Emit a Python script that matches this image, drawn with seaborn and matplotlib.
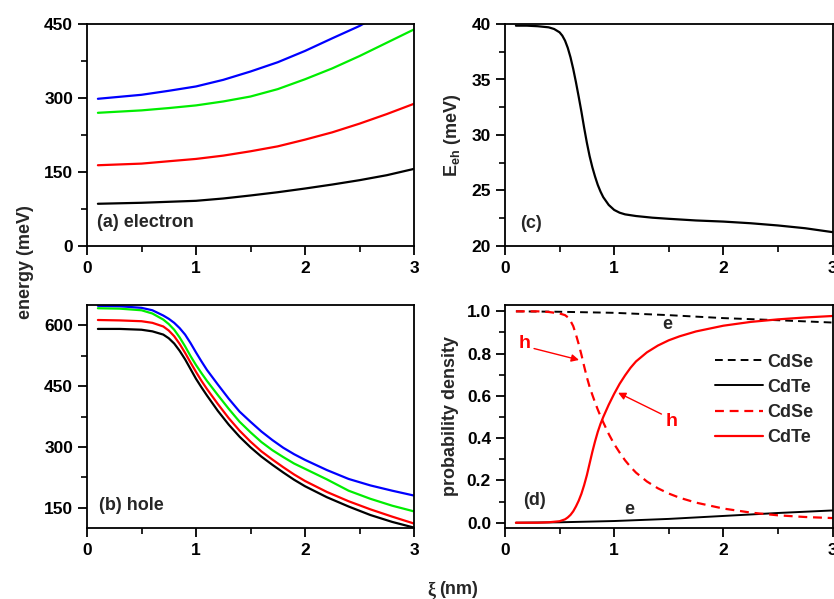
import matplotlib
matplotlib.use("Agg")
import matplotlib.pyplot as plt
from matplotlib.ticker import MultipleLocator, FormatStrFormatter
import pandas as pd
import seaborn as sns

# ---------------- data ----------------
# (a) electron levels (meV) vs xi (nm)
xi_a = [0.1, 0.5, 0.75, 1.0, 1.25, 1.5, 1.75, 2.0, 2.25, 2.5, 2.75, 3.0]
ea_black = [85.6, 87.6, 89.6, 91.6, 96.3, 102.4, 109.0, 116.5, 124.6, 133.4, 143.5, 156.3]
ea_red = [163.7, 167.0, 171.8, 176.5, 183.2, 192.0, 202.0, 215.6, 230.4, 248.0, 267.4, 288.3]
ea_green = [270.0, 274.9, 279.6, 285.0, 293.0, 303.0, 318.0, 338.0, 360.0, 385.0, 412.0, 439.0]
ea_blue = [298.4, 306.5, 314.6, 323.4, 336.8, 353.7, 372.5, 395.4, 421.0, 446.0, 477.0, 506.0]

# (b) hole levels (meV)
xi_b = [0.1, 0.3, 0.5, 0.6, 0.7, 0.75, 0.8, 0.85, 0.9, 0.95, 1.0, 1.05, 1.1, 1.2,
        1.3, 1.4, 1.5, 1.6, 1.7, 1.8, 1.9, 2.0, 2.2, 2.4, 2.6, 2.8, 3.0]
hb_black = [591, 591, 589, 585, 577, 568, 555, 537, 516, 492, 468, 447, 427, 389,
            355, 325, 299, 276, 256, 237, 219, 203, 176, 153, 132, 115, 101]
hb_red = [613, 612, 610, 606, 597, 587, 573, 554, 532, 508, 485, 463, 443, 406,
          371, 340, 313, 289, 269, 250, 232, 216, 189, 166, 146, 128, 111]
hb_green = [642, 641, 637, 629, 614, 603, 589, 570, 548, 524, 502, 482, 463, 428,
            394, 362, 336, 312, 292, 275, 259, 246, 220, 192, 172, 155, 141]
hb_blue = [648, 647, 643, 637, 624, 616, 606, 593, 577, 556, 533, 511, 490, 454,
           419, 387, 362, 338, 317, 298, 282, 268, 243, 221, 205, 192, 180]

# (c) exciton binding energy (meV)
xi_c = [0.1, 0.2, 0.3, 0.4, 0.45, 0.5, 0.525, 0.55, 0.575, 0.6, 0.625, 0.65, 0.675,
        0.7, 0.725, 0.75, 0.775, 0.8, 0.825, 0.85, 0.875, 0.9, 0.95, 1.0, 1.05,
        1.1, 1.2, 1.35, 1.5, 1.75, 2.0, 2.25, 2.5, 2.75, 3.0]
e_eh = [39.85, 39.85, 39.8, 39.7, 39.55, 39.25, 38.95, 38.5, 37.85, 37.0, 35.95,
        34.75, 33.45, 32.1, 30.65, 29.3, 28.1, 27.1, 26.25, 25.5, 24.9, 24.4, 23.7,
        23.25, 23.0, 22.85, 22.7, 22.55, 22.45, 22.3, 22.2, 22.05, 21.85, 21.6, 21.25]

# (d) probability densities
xi_h = [0.1, 0.3, 0.4, 0.5, 0.55, 0.575, 0.6, 0.625, 0.65, 0.675, 0.7, 0.725, 0.75,
        0.775, 0.8, 0.825, 0.85, 0.875, 0.9, 0.95, 1.0, 1.05, 1.1, 1.15, 1.2, 1.3,
        1.4, 1.5, 1.6, 1.75, 2.0, 2.25, 2.5, 2.75, 3.0]
h_cdse = [1.0, 1.0, 0.997, 0.99, 0.982, 0.972, 0.955, 0.93, 0.89, 0.845, 0.795,
          0.74, 0.688, 0.643, 0.605, 0.569, 0.535, 0.504, 0.475, 0.42, 0.372, 0.332,
          0.295, 0.264, 0.237, 0.195, 0.163, 0.138, 0.118, 0.095, 0.067, 0.048,
          0.035, 0.027, 0.022]
h_cdte = [0.0, 0.0, 0.002, 0.007, 0.016, 0.025, 0.037, 0.054, 0.077, 0.104, 0.137,
          0.178, 0.225, 0.28, 0.335, 0.385, 0.43, 0.468, 0.50, 0.558, 0.61, 0.657,
          0.697, 0.733, 0.763, 0.806, 0.838, 0.863, 0.882, 0.905, 0.932, 0.95,
          0.962, 0.971, 0.978]
xi_e = [0.1, 0.5, 1.0, 1.5, 2.0, 2.5, 3.0]
e_cdse = [1.0, 0.998, 0.993, 0.982, 0.968, 0.958, 0.947]
e_cdte = [0.0, 0.002, 0.008, 0.018, 0.032, 0.046, 0.058]

level_colors = ["black", "red", "#00EE00", "blue"]

# ---------------- style ----------------
sns.set_style("ticks")
plt.rcParams.update({
    "font.family": ["Liberation Sans", "DejaVu Sans"],
    "font.weight": "bold",
    "axes.labelweight": "bold",
    "axes.linewidth": 1.3,
    "xtick.direction": "out",
    "ytick.direction": "out",
    "xtick.major.size": 6.5,
    "ytick.major.size": 6.5,
    "xtick.minor.size": 4,
    "ytick.minor.size": 4,
    "xtick.major.width": 1.3,
    "ytick.major.width": 1.3,
    "xtick.minor.width": 1.2,
    "ytick.minor.width": 1.2,
    "xtick.labelsize": 12.5,
    "ytick.labelsize": 12.5,
    "xtick.major.pad": 4.5,
    "ytick.major.pad": 3.5,
    "mathtext.fontset": "custom",
    "mathtext.rm": "Liberation Sans:bold",
    "mathtext.bf": "Liberation Sans:bold",
})

W, H = 834, 599
fig = plt.figure(figsize=(W / 100, H / 100), dpi=100)


def px_axes(l, t, r, b):
    return fig.add_axes([l / W, 1 - b / H, (r - l) / W, (b - t) / H])


ax_a = px_axes(87, 24, 414, 246)
ax_c = px_axes(505, 24, 832.5, 246)
ax_b = px_axes(87, 305, 414, 528)
ax_d = px_axes(505, 305, 832.5, 528)

LW = 1.6

# (a) electron
df_a = pd.DataFrame({"xi": xi_a, "E1": ea_black, "E2": ea_red, "E3": ea_green, "E4": ea_blue})
for col, c in zip(["E1", "E2", "E3", "E4"], level_colors):
    sns.lineplot(data=df_a, x="xi", y=col, color=c, lw=LW, ax=ax_a)
ax_a.set_ylim(0, 450)
ax_a.yaxis.set_major_locator(MultipleLocator(150))
ax_a.yaxis.set_minor_locator(MultipleLocator(75))
ax_a.text(0.09, 48, "(a) electron", fontsize=13, fontweight="bold", va="center")

# (b) hole
df_b = pd.DataFrame({"xi": xi_b, "H1": hb_black, "H2": hb_red, "H3": hb_green, "H4": hb_blue})
for col, c in zip(["H1", "H2", "H3", "H4"], level_colors):
    sns.lineplot(data=df_b, x="xi", y=col, color=c, lw=LW, ax=ax_b)
ax_b.set_ylim(100, 650)
ax_b.yaxis.set_major_locator(MultipleLocator(150))
ax_b.yaxis.set_minor_locator(MultipleLocator(75))
ax_b.text(0.11, 156, "(b) hole", fontsize=13, fontweight="bold", va="center")

# (c) binding energy
df_c = pd.DataFrame({"xi": xi_c, "Eeh": e_eh})
sns.lineplot(data=df_c, x="xi", y="Eeh", color="black", lw=LW, ax=ax_c)
ax_c.set_ylim(20, 40)
ax_c.yaxis.set_major_locator(MultipleLocator(5))
ax_c.yaxis.set_minor_locator(MultipleLocator(2.5))
ax_c.set_ylabel(r"E$_{\mathbf{eh}}$ (meV)", fontsize=13, fontweight="bold", labelpad=6)
ax_c.text(0.14, 22.05, "(c)", fontsize=13, fontweight="bold", va="center")

# (d) probability density in each layer
df_e = pd.DataFrame({"xi": xi_e, "e_cdse": e_cdse, "e_cdte": e_cdte})
df_h = pd.DataFrame({"xi": xi_h, "h_cdse": h_cdse, "h_cdte": h_cdte})
sns.lineplot(data=df_e, x="xi", y="e_cdse", color="black", lw=1.4, ax=ax_d, label="CdSe")
ax_d.lines[-1].set_dashes((4, 2.6))
sns.lineplot(data=df_e, x="xi", y="e_cdte", color="black", lw=1.4, ax=ax_d, label="CdTe")
sns.lineplot(data=df_h, x="xi", y="h_cdse", color="red", lw=LW, ax=ax_d, label="CdSe")
ax_d.lines[-1].set_dashes((4, 2.6))
sns.lineplot(data=df_h, x="xi", y="h_cdte", color="red", lw=LW, ax=ax_d, label="CdTe")
ax_d.set_ylim(-0.025, 1.03)
ax_d.yaxis.set_major_locator(MultipleLocator(0.2))
ax_d.yaxis.set_minor_locator(MultipleLocator(0.1))
ax_d.yaxis.set_major_formatter(FormatStrFormatter("%.1f"))
ax_d.set_ylabel("probability density", fontsize=13, fontweight="bold", labelpad=6)
ax_d.legend(loc="upper left", bbox_to_anchor=(1.92, 0.80), bbox_transform=ax_d.transData,
            frameon=False, handlelength=2.66, handletextpad=0.25,
            labelspacing=0.45, borderpad=0, borderaxespad=0,
            prop={"weight": "bold", "size": 13})
ax_d.text(0.165, 0.103, "(d)", fontsize=13, fontweight="bold", va="center")
ax_d.text(1.485, 0.937, "e", fontsize=13, fontweight="bold", ha="center", va="center")
ax_d.text(1.137, 0.062, "e", fontsize=13, fontweight="bold", ha="center", va="center")
ax_d.text(0.18, 0.846, "h", fontsize=14, fontweight="bold", color="red",
          ha="center", va="center")
ax_d.text(1.525, 0.478, "h", fontsize=14, fontweight="bold", color="red",
          ha="center", va="center")
arrow = dict(arrowstyle="-|>", color="red", lw=1.0, mutation_scale=11,
             shrinkA=0, shrinkB=0)
ax_d.annotate("", xy=(0.678, 0.77), xytext=(0.266, 0.824), arrowprops=arrow)
ax_d.annotate("", xy=(1.036, 0.615), xytext=(1.433, 0.514), arrowprops=arrow)

for ax in (ax_a, ax_b, ax_c, ax_d):
    ax.set_xlim(0, 3)
    ax.xaxis.set_major_locator(MultipleLocator(1))
    ax.xaxis.set_minor_locator(MultipleLocator(0.5))
    ax.set_xlabel("")
    if ax not in (ax_c, ax_d):
        ax.set_ylabel("")
    for s in ax.spines.values():
        s.set_visible(True)
        s.set_color("black")
    ax.tick_params(which="both", top=False, right=False, colors="black")
    for lab in ax.get_xticklabels() + ax.get_yticklabels():
        lab.set_fontweight("bold")

fig.text(25 / W, 1 - 262 / H, "energy (meV)", rotation=90, fontsize=13,
         fontweight="bold", ha="center", va="center")
fig.text(436 / W, 1 - 590 / H, "\u03be", fontsize=13, family="Liberation Serif",
         ha="right", va="center")
fig.text(439 / W, 1 - 590 / H, "(nm)", fontsize=13, fontweight="bold",
         ha="left", va="center")

fig.savefig("out.png", dpi=100)
